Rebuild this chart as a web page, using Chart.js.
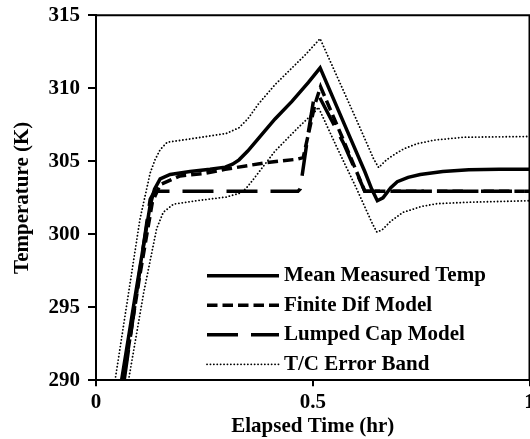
<!DOCTYPE html>
<html>
<head>
<meta charset="utf-8">
<script src="https://cdn.jsdelivr.net/npm/chart.js@4"></script>
<style>
  html, body { margin: 0; padding: 0; background: #fff; overflow: hidden; }
  #box { width: 530px; height: 439px; }
</style>
</head>
<body>
<div id="box"><canvas id="grafico"></canvas></div>
<script>
// Mean measured temperature (solid)
const measuredTime = [0.059, 0.09, 0.125, 0.135, 0.148, 0.171, 0.217, 0.263, 0.298, 0.315, 0.33, 0.35, 0.37, 0.39, 0.413, 0.452, 0.49, 0.517,
                      0.58, 0.62, 0.636, 0.649, 0.662, 0.68, 0.695, 0.72, 0.748, 0.8, 0.86, 0.93, 1.0];
const measuredTemp = [290, 295.7, 302.0, 303.1, 303.8, 304.1, 304.3, 304.45, 304.6, 304.8, 305.1, 305.7, 306.4, 307.1, 307.9, 309.1, 310.4, 311.4,
                      307.05, 304.3, 303.1, 302.3, 302.5, 303.2, 303.6, 303.9, 304.1, 304.3, 304.42, 304.45, 304.45];

// Finite difference model (short dash)
const finiteTime = [0.063, 0.1, 0.13, 0.148, 0.194, 0.247, 0.298, 0.39, 0.463, 0.478, 0.505, 0.518, 0.57, 0.62, 0.7, 0.8, 1.0];
const finiteTemp = [290, 297.0, 302.2, 303.4, 304.0, 304.15, 304.45, 304.9, 305.14, 305.25, 308.9, 310.1, 306.5, 302.95, 302.95, 302.95, 302.95];

// Lumped capacitance model (long dash)
const lumpedTime = [0.065, 0.1, 0.125, 0.135, 0.2, 0.3, 0.4, 0.466, 0.471, 0.49, 0.502, 0.512, 0.57, 0.62, 0.7, 0.8, 1.0];
const lumpedTemp = [290, 297.3, 302.4, 302.95, 302.95, 302.95, 302.95, 302.95, 303.1, 307.0, 309.2, 309.6, 306.3, 302.95, 302.95, 302.95, 302.95];

// T/C error band, upper and lower (dotted)
const upperTime = [0.044, 0.1015, 0.125, 0.136, 0.148, 0.164, 0.21, 0.3, 0.33, 0.35, 0.374, 0.413, 0.483, 0.517,
                   0.6, 0.64, 0.652, 0.67, 0.69, 0.71, 0.74, 0.78, 0.85, 1.0];
const upperTemp = [290, 301.05, 304.2, 305.1, 305.8, 306.3, 306.5, 306.9, 307.3, 307.9, 308.9, 310.25, 312.3, 313.4,
                   307.9, 305.2, 304.57, 305.1, 305.5, 305.85, 306.2, 306.45, 306.65, 306.7];
const lowerTime = [0.075, 0.11, 0.14, 0.155, 0.179, 0.232, 0.3, 0.33, 0.345, 0.36, 0.413, 0.466, 0.505, 0.513,
                   0.555, 0.6, 0.638, 0.648, 0.66, 0.68, 0.708, 0.75, 0.787, 0.863, 1.0];
const lowerTemp = [290, 296.0, 300.4, 301.5, 302.07, 302.3, 302.55, 302.8, 303.1, 303.65, 305.7, 307.3, 308.4, 308.7,
                   306.0, 303.2, 300.7, 300.15, 300.3, 300.9, 301.5, 301.9, 302.1, 302.2, 302.3];

const xTicks = [0, 0.5, 1];
const yMin = 290, yMax = 315, yStep = 5;

function pares(xs, ys) {
    return xs.map((x, i) => ({ x: x, y: ys[i] }));
}

const fonte = { family: '"Liberation Serif", "Times New Roman", serif', weight: 'bold', size: 21 };

// draws the frame (top + right) and the legend inside the plot
const molduraLegenda = {
    id: 'molduraLegenda',
    afterDraw(chart) {
        const ctx = chart.ctx;
        const a = chart.chartArea;
        ctx.save();
        ctx.strokeStyle = '#000';
        ctx.lineWidth = 2;
        ctx.beginPath();
        ctx.moveTo(a.left, a.top);
        ctx.lineTo(a.right, a.top);
        ctx.lineTo(a.right, a.bottom);
        ctx.stroke();

        ctx.font = 'bold 21px "Liberation Serif", "Times New Roman", serif';
        ctx.textBaseline = 'middle';
        ctx.textAlign = 'left';
        let y = a.top + 260.5;
        chart.data.datasets.forEach(ds => {
            if (!ds.label) return;
            ctx.beginPath();
            ctx.setLineDash(ds.borderDash || []);
            ctx.lineCap = ds.borderCapStyle || 'butt';
            ctx.lineWidth = ds.borderWidth;
            ctx.strokeStyle = ds.borderColor;
            ctx.moveTo(a.left + 111, y);
            ctx.lineTo(a.left + 183, y);
            ctx.stroke();
            ctx.setLineDash([]);
            ctx.fillStyle = '#000';
            ctx.fillText(ds.label, a.left + 188, y);
            y += 29.5;
        });
        ctx.restore();
    }
};

new Chart(document.getElementById('grafico'), {
    type: 'line',
    data: {
        datasets: [
            { label: 'Mean Measured Temp', data: pares(measuredTime, measuredTemp), borderColor: '#000', borderWidth: 3.5, pointRadius: 0, tension: 0 },
            { label: 'Finite Dif Model', data: pares(finiteTime, finiteTemp), borderColor: '#000', borderWidth: 3.5, borderDash: [10.5, 5], pointRadius: 0, tension: 0 },
            { label: 'Lumped Cap Model', data: pares(lumpedTime, lumpedTemp), borderColor: '#000', borderWidth: 3.5, borderDash: [31, 13], pointRadius: 0, tension: 0 },
            { label: 'T/C Error Band', data: pares(upperTime, upperTemp), borderColor: '#000', borderWidth: 1.8, borderDash: [0.1, 3.3], borderCapStyle: 'round', pointRadius: 0, tension: 0 },
            { label: '', data: pares(lowerTime, lowerTemp), borderColor: '#000', borderWidth: 1.8, borderDash: [0.1, 3.3], borderCapStyle: 'round', pointRadius: 0, tension: 0 }
        ]
    },
    options: {
        responsive: true,
        maintainAspectRatio: false,
        animation: false,
        layout: { padding: { top: 15.3, right: 0.5, bottom: 0, left: 0 } },
        plugins: { legend: { display: false }, tooltip: { enabled: false } },
        scales: {
            x: {
                type: 'linear',
                min: 0,
                max: 1,
                afterBuildTicks: s => { s.ticks = xTicks.map(v => ({ value: v })); },
                afterFit: s => { s.height = 58.7; s.paddingLeft = 0; s.paddingRight = 0; },
                ticks: { color: '#000', font: fonte, padding: 4, maxRotation: 0, callback: v => String(v) },
                grid: { drawOnChartArea: false, drawTicks: true, tickLength: 6, color: '#000', lineWidth: 2 },
                border: { display: true, color: '#000', width: 2 },
                title: { display: true, text: 'Elapsed Time (hr)', color: '#000', font: fonte, padding: { top: 0, bottom: 0 } }
            },
            y: {
                min: yMin,
                max: yMax,
                afterFit: s => { s.width = 96; s.paddingTop = 0; s.paddingBottom = 0; },
                ticks: { color: '#000', font: fonte, padding: 8, stepSize: yStep },
                grid: { drawOnChartArea: false, drawTicks: true, tickLength: 8, color: '#000', lineWidth: 2 },
                border: { display: true, color: '#000', width: 2 },
                title: { display: true, text: 'Temperature (K)', color: '#000', font: fonte, padding: { top: 10, bottom: 0 } }
            }
        }
    },
    plugins: [molduraLegenda]
});
</script>
</body>
</html>
